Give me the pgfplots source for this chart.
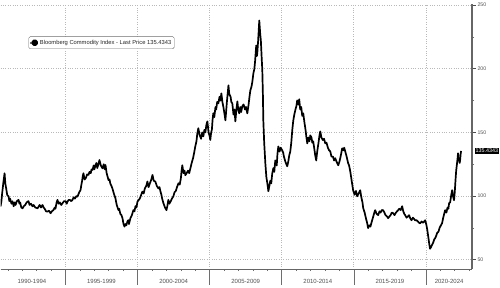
\documentclass[border=0pt]{standalone}
\usepackage{pgfplots}
\pgfplotsset{compat=1.18}
\usepackage{fontspec}
\setmainfont{Liberation Sans}
\definecolor{gridgray}{RGB}{185,185,185}
\definecolor{axgray}{RGB}{110,110,110}
\definecolor{txtgray}{RGB}{80,80,80}
\begin{document}
\begin{tikzpicture}
\begin{axis}[
  name=main,
  at={(0,0)}, anchor=south west,
  scale only axis, width=472pt, height=266pt,
  xmin=1990.49, xmax=2023.2, ymin=42.5, ymax=251.3,
  clip mode=individual,
  axis x line*=bottom, axis y line*=right,
  axis line style={axgray, line width=0.9pt},
  /pgf/number format/assume math mode=true,
  tick align=outside,
  major tick length=3.5pt, minor tick length=2pt,
  tick style={axgray, line width=0.6pt},
  major y tick style={black!70, line width=0.9pt},
  xtick={1992.67,1997.49,2002.5,2007.5,2012.5,2017.5,2021.61},
  xticklabels={1990-1994,1995-1999,2000-2004,2005-2009,2010-2014,2015-2019,2020-2024},
  major x tick style={draw=none},
  xticklabel style={font=\fontsize{6}{7}\selectfont, text=txtgray, yshift=-3.2pt},
  minor xtick={1991,1992,...,2023},
  extra x ticks={1995,2000,2005,2010,2015,2020},
  extra x tick labels={},
  extra x tick style={grid=major},
  ytick={50,100,150,200,250},
  minor ytick={75,125,175,225},
  yticklabel style={font=\fontsize{5.2}{6}\selectfont, text=txtgray, xshift=-1.5pt},
  ymajorgrids=true,
  major grid style={gridgray, dotted, line width=0.8pt},
  legend style={at={(rel axis cs:0.0593,0.876)}, anchor=north west,
    draw=axgray, rounded corners=1.5pt, line width=0.4pt,
    font=\fontsize{5.8}{7}\selectfont, text=black!85,
    inner xsep=1pt, inner ysep=1.2pt, fill=white},
  legend cell align=left,
  legend image code/.code={
    \draw[axgray, line width=0.3pt] (-1pt,0.9pt) -- (0.8pt,0.9pt);
    \draw[axgray, line width=0.3pt] (-1pt,-0.9pt) -- (0.8pt,-0.9pt);
    \fill[black] (1.6pt,-2.3pt) rectangle (6.2pt,2.3pt);
  },
]
\addplot[black, line width=1.7pt, line join=round] table {
x y
1990.49 91.8
1990.55 96
1990.60 102
1990.66 108
1990.70 112
1990.77 117.9
1990.82 110
1990.88 106
1990.95 101
1991.05 99.6
1991.10 96
1991.15 98
1991.25 94
1991.32 95.9
1991.40 92
1991.47 95
1991.53 93
1991.62 96
1991.74 97
1991.80 94
1991.85 95
1991.93 91
1992.02 90.4
1992.10 92
1992.20 93
1992.30 95
1992.43 96
1992.50 93
1992.60 94
1992.70 92
1992.78 93
1992.90 91
1993.06 90.4
1993.15 92
1993.20 93
1993.30 91
1993.40 93
1993.48 91
1993.55 90
1993.65 88
1993.75 87.8
1993.85 88.5
1993.96 86.5
1994.05 88
1994.16 89
1994.25 91
1994.30 90
1994.38 95
1994.44 97
1994.52 94
1994.60 95
1994.70 93
1994.79 94.4
1994.90 96
1995.00 96
1995.08 94
1995.14 95.7
1995.22 97
1995.30 97
1995.40 96
1995.48 97
1995.56 99
1995.65 98
1995.75 100
1995.83 99.6
1995.95 103
1996.04 104.8
1996.10 109
1996.15 112
1996.20 116
1996.24 117.9
1996.32 113
1996.40 114
1996.50 117
1996.59 116.6
1996.66 119
1996.75 118
1996.80 121
1996.87 120.5
1996.95 124
1997.00 121
1997.08 124.4
1997.14 126
1997.20 122
1997.28 125
1997.35 128.3
1997.45 124
1997.56 121.8
1997.65 125
1997.72 121
1997.77 124.4
1997.85 118
1997.98 112.6
1998.05 113
1998.10 110
1998.18 108
1998.25 106
1998.35 102
1998.46 98.3
1998.55 93
1998.67 89
1998.72 90
1998.80 86
1998.88 85
1998.95 82.6
1999.02 78
1999.09 76
1999.15 78
1999.22 77
1999.29 80
1999.35 81
1999.40 78
1999.50 82.6
1999.60 85
1999.71 89
1999.78 88
1999.85 92
1999.92 91
1999.99 95.7
2000.08 97
2000.15 98
2000.25 101
2000.33 103.5
2000.42 102
2000.50 106
2000.60 108
2000.68 111.4
2000.76 107
2000.85 110
2000.95 113
2001.03 116.6
2001.12 112
2001.23 111.4
2001.33 108
2001.44 106
2001.52 107
2001.58 103.8
2001.65 101
2001.70 98
2001.79 94.4
2001.90 91
2002.00 88.9
2002.06 92
2002.13 97
2002.20 94
2002.30 96
2002.38 98
2002.48 99.8
2002.56 103
2002.65 104
2002.73 107
2002.83 110
2002.92 109
2003.00 114
2003.05 120
2003.10 124.2
2003.18 118
2003.25 120
2003.31 116.4
2003.40 118
2003.50 120
2003.58 118
2003.66 121.8
2003.75 126
2003.85 130
2003.92 134
2004.00 139
2004.08 143
2004.14 149
2004.21 153.3
2004.30 148
2004.40 145
2004.48 150
2004.56 146.9
2004.63 152
2004.70 150
2004.77 156
2004.84 158.7
2004.92 150
2005.00 147
2005.04 144
2005.10 150
2005.15 152
2005.20 160
2005.25 165
2005.32 162
2005.40 170
2005.45 168
2005.52 174
2005.60 172.8
2005.68 178
2005.74 175
2005.81 180.7
2005.88 174
2005.95 170
2006.02 165
2006.09 159.5
2006.15 168
2006.20 175
2006.26 182
2006.30 187
2006.36 180
2006.45 178
2006.50 174
2006.57 172.8
2006.65 164
2006.72 168
2006.78 158.7
2006.85 168
2006.92 174.4
2006.98 168
2007.05 165
2007.12 170
2007.18 166
2007.26 170.5
2007.35 172
2007.45 168
2007.52 170
2007.61 165
2007.70 172
2007.76 178
2007.82 183
2007.90 186
2007.96 190
2008.03 196.4
2008.10 200
2008.15 206
2008.20 214
2008.23 218.4
2008.27 210
2008.30 212
2008.36 222
2008.40 230
2008.44 238
2008.50 228
2008.55 222
2008.60 210
2008.65 198.8
2008.69 180
2008.72 159.5
2008.78 142
2008.86 125.8
2008.93 115
2009.00 110
2009.07 103.8
2009.14 108
2009.20 112
2009.27 110
2009.34 117.9
2009.42 122
2009.48 119
2009.55 128
2009.60 127
2009.65 124
2009.70 133
2009.76 139
2009.85 135
2009.92 138
2010.03 136
2010.10 134
2010.15 131
2010.25 127
2010.32 125
2010.38 123.4
2010.45 127
2010.52 132
2010.59 135
2010.66 142
2010.73 152
2010.80 159.5
2010.87 164
2010.95 168
2011.02 171
2011.07 175.2
2011.14 172
2011.21 176
2011.28 168
2011.35 170
2011.42 163
2011.49 165
2011.57 158
2011.65 152
2011.70 147
2011.77 141.4
2011.85 146
2011.92 143
2011.98 147.7
2012.06 146
2012.12 142
2012.18 143
2012.26 137
2012.32 132
2012.39 128
2012.46 135
2012.55 142
2012.62 148
2012.67 150.8
2012.75 146
2012.85 144
2012.93 145
2013.02 141.4
2013.10 142
2013.20 138
2013.28 136
2013.36 135.2
2013.45 131
2013.55 131
2013.63 128
2013.71 129.7
2013.80 127
2013.92 124.2
2014.00 127
2014.10 132
2014.19 137.5
2014.27 136
2014.33 138
2014.40 135.2
2014.50 131
2014.60 126
2014.67 124
2014.75 119.5
2014.85 112
2014.95 104.6
2015.05 101
2015.15 104
2015.23 99.8
2015.33 102
2015.44 104.6
2015.52 99
2015.60 95
2015.65 90.5
2015.75 87
2015.85 82
2015.92 79
2015.99 74.8
2016.08 77
2016.15 76
2016.27 81
2016.35 84
2016.42 87
2016.48 88.9
2016.58 86
2016.69 85
2016.78 88
2016.85 87
2016.95 89
2017.03 88.9
2017.12 87
2017.20 85
2017.30 84
2017.38 82.6
2017.47 84
2017.55 85
2017.63 87
2017.73 86.5
2017.82 85
2017.92 87
2018.00 88
2018.07 88.9
2018.15 90
2018.25 89
2018.35 92
2018.43 88
2018.50 86
2018.56 85
2018.66 83
2018.75 84
2018.83 85
2018.91 82.6
2019.00 81
2019.10 83
2019.18 82
2019.25 81
2019.35 81
2019.45 80
2019.52 79
2019.60 78.6
2019.70 80
2019.80 79
2019.88 80
2019.95 81
2020.02 78
2020.09 73.9
2020.15 69
2020.20 65
2020.25 61
2020.29 58.6
2020.36 60
2020.44 62
2020.50 63.3
2020.58 66
2020.65 67
2020.72 69
2020.78 71
2020.87 72
2020.95 75
2021.04 77
2021.12 78.6
2021.20 83
2021.27 86
2021.33 88.9
2021.42 87
2021.50 91
2021.56 90
2021.61 94.4
2021.68 95
2021.76 101
2021.82 104.6
2021.88 100
2021.95 96.7
2022.00 103
2022.05 112
2022.10 120
2022.16 125.8
2022.20 130
2022.23 133.6
2022.27 128
2022.30 129
2022.34 126
2022.37 128
2022.41 133
2022.44 135.4343
};
\addlegendentry{Bloomberg Commodity Index - Last Price 135.4343}
\pgfplotsinvokeforeach{1995,2000,2005,2010,2015,2020}{
  \draw[axgray, line width=0.6pt] (axis cs:#1,42.5) -- ([yshift=-16pt]axis cs:#1,42.5);
}
\node[anchor=west, fill=black, text=white, inner xsep=1pt, inner ysep=1.2pt,
  font=\fontsize{5.4}{6}\selectfont] at ([xshift=2.5pt]axis cs:2023.2,135.4343) {135.4343};
\end{axis}
\draw[black!60, line width=1.2pt] (main.south east) -- (main.north east);
\draw[black!60, line width=1.1pt] (main.south west) -- (main.south east);
\path[use as bounding box] (0,-15pt) rectangle (500pt,266pt);
\end{tikzpicture}
\end{document}
